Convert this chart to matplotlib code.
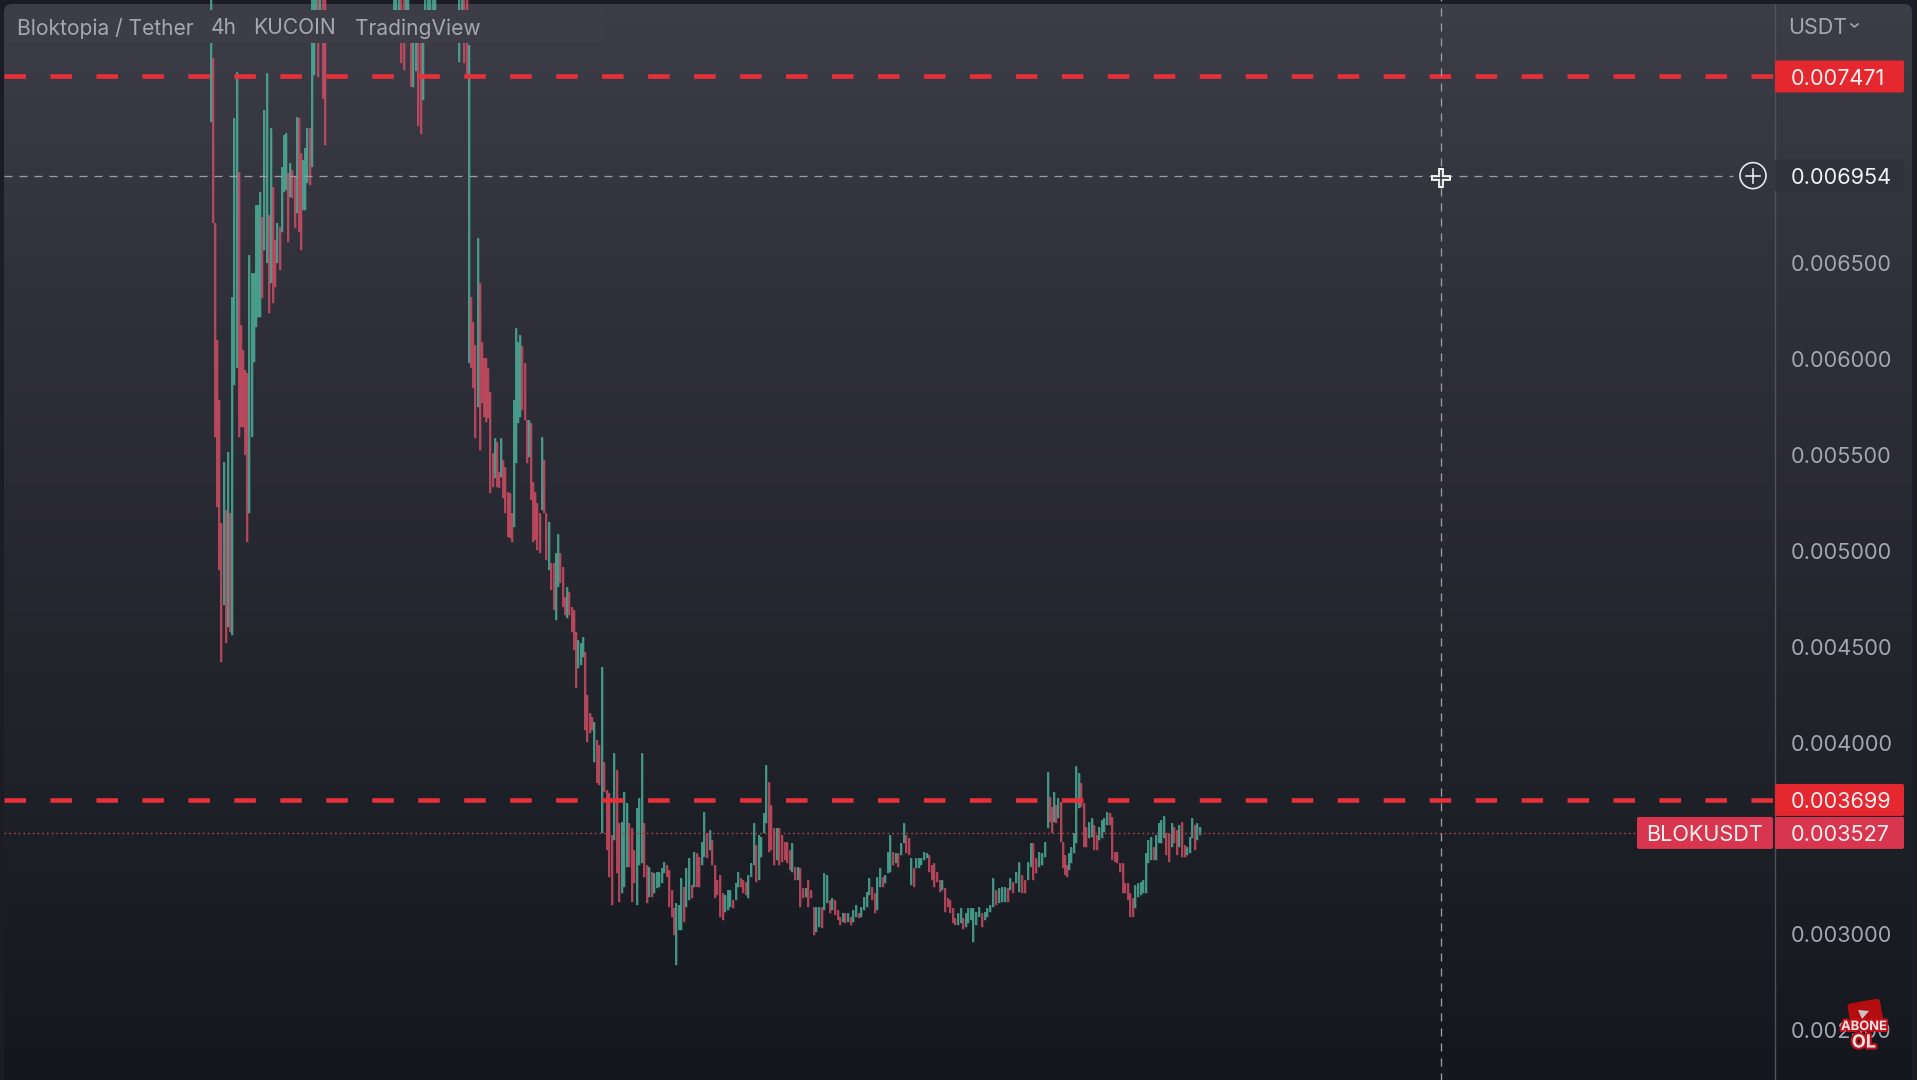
import numpy as np
import matplotlib
matplotlib.use("Agg")
import matplotlib.pyplot as plt
import matplotlib.patheffects as pe
from matplotlib.patches import FancyBboxPatch, Rectangle, Circle, Polygon
from matplotlib.transforms import Affine2D

plt.rcParams["font.family"] = ["Inter", "DejaVu Sans"]
plt.rcParams["lines.scale_dashes"] = False

# all prices in millionths of a USDT
rally_high = [7900, 7567, 6707, 6097, 5784, 5143, 5461, 5211, 5513, 5195, 6321, 7254, 7494, 6973, 6175, 6045, 5941, 5925,
              6540, 6446, 6446, 6801, 6801, 6869, 6738, 7296, 7489, 6749, 7202, 6895, 6618, 6707, 6686, 6999, 7166, 7176,
              6968, 7020, 6983, 6947, 7260, 7254, 7072, 7035, 7098, 7202, 7202, 7900, 7900, 7900, 7900, 7900, 7900, 7900]
rally_low = [7234, 6707, 5591, 5226, 4898, 4418, 4715, 4517, 4600, 4575, 4559, 5862, 5951, 5591, 5643, 5643, 5497, 5044,
             5195, 5591, 5982, 6165, 6217, 6217, 6316, 6566, 6498, 6238, 6394, 6290, 6373, 6498, 6462, 6660, 6869, 6879,
             6608, 6843, 6837, 6681, 6759, 6660, 6566, 6775, 6775, 6916, 6905, 6999, 7479, 7750, 7468, 7750, 7353, 7114]

top_high = [7900, 7900, 7900, 7900, 7900, 7900, 7900, 7750, 7750, 7750, 7750, 7750, 7750, 7900, 7900, 7900, 7900, 7900]
top_low = [7750, 7750, 7750, 7541, 7505, 7750, 7750, 7416, 7416, 7499, 7213, 7171, 7348, 7750, 7750, 7750, 7750, 7750]

peak_high = [7900, 7900, 7900, 7900]
peak_low = [7546, 7750, 7541, 7473]

fall_a_high = [7635, 6321, 6191, 6071, 6629, 6394, 6087, 6003, 6003, 5951, 5826, 5508, 5586, 5565, 5409, 5586, 5471, 5435,
               5304, 5299, 5195, 5784, 6160, 6087, 6123, 6066, 5977, 5680, 5680, 5664, 5357, 5304, 5247, 5195, 5591, 5471, 5195]
fall_a_low = [5977, 5951, 5847, 5586, 5748, 5523, 5769, 5696, 5669, 5690, 5299, 5331, 5377, 5331, 5325, 5383, 5273, 5195,
              5070, 5065, 5044, 5122, 5456, 5664, 5696, 5732, 5680, 5456, 5487, 5263, 5044, 5054, 5002, 4986, 5211, 5195, 4950]

fall_b_high = [5148, 4934, 4934, 4986, 5086, 4986, 4913, 4757, 4809, 4783, 4705, 4689, 4575, 4533, 4517, 4548, 4470, 4246, 4152, 4131]
fall_b_low = [4898, 4794, 4689, 4637, 4809, 4830, 4705, 4663, 4648, 4663, 4575, 4481, 4283, 4387, 4403, 4444, 4064, 4001, 4048, 4064]

base_a_high = [4105, 4011, 3985, 4392, 3897, 3751, 3735, 3516, 3944, 3855, 3579, 3584, 3740, 3683, 3579, 3553, 3438, 3657,
               3709, 3944, 3579, 3360, 3349, 3323, 3318, 3323, 3323, 3344, 3375, 3360, 3334, 3229, 3136]
base_a_low = [3897, 3787, 3777, 3527, 3740, 3438, 3297, 3151, 3490, 3318, 3167, 3214, 3245, 3349, 3349, 3167, 3266, 3151,
              3360, 3370, 3297, 3162, 3193, 3193, 3214, 3240, 3245, 3266, 3318, 3297, 3141, 3089, 2995]

base_b_high = [3162, 3151, 3292, 3245, 3344, 3396, 3255, 3428, 3422, 3401, 3480, 3636, 3527, 3542, 3490, 3360, 3282, 3308,
               3214, 3203, 3229, 3229, 3177, 3266, 3323, 3292, 3282, 3271, 3308, 3370, 3579, 3464, 3516, 3506, 3631]
base_b_low = [2838, 3021, 3021, 3063, 3141, 3177, 3188, 3245, 3245, 3245, 3360, 3401, 3396, 3438, 3360, 3188, 3203, 3089,
              3073, 3115, 3125, 3141, 3136, 3177, 3245, 3245, 3214, 3203, 3188, 3297, 3360, 3271, 3282, 3401, 3527]

base_c_high = [3881, 3793, 3673, 3553, 3553, 3553, 3516, 3480, 3480, 3438, 3474, 3349, 3349, 3344, 3240, 3240, 3282, 3229,
               3141, 3141, 3141, 3141, 3318, 3308, 3177, 3188, 3177, 3125, 3089, 3109, 3109, 3109, 3089, 3125, 3151, 3109,
               3141, 3193, 3219, 3292, 3245, 3214, 3297, 3344, 3297, 3308, 3428, 3516, 3428, 3422, 3422, 3474, 3579, 3516, 3501]
base_c_low = [3579, 3428, 3438, 3360, 3386, 3360, 3375, 3386, 3370, 3334, 3323, 3282, 3282, 3141, 3188, 3193, 3141, 3188,
              2995, 3010, 3036, 3031, 3125, 3162, 3109, 3125, 3099, 3073, 3047, 3063, 3057, 3063, 3047, 3063, 3089, 3083,
              3089, 3125, 3141, 3203, 3177, 3109, 3125, 3245, 3245, 3266, 3318, 3323, 3360, 3370, 3349, 3412, 3474, 3422, 3412]

base_d_high = [3396, 3344, 3396, 3396, 3396, 3428, 3422, 3412, 3360, 3370, 3323, 3282, 3282, 3240, 3188, 3177, 3136, 3083,
               3109, 3136, 3083, 3109, 3136, 3136]
base_d_low = [3255, 3245, 3344, 3344, 3360, 3386, 3396, 3323, 3282, 3245, 3271, 3219, 3229, 3115, 3141, 3109, 3057, 3047,
              3047, 3057, 3026, 3036, 3057, 3073]

base_e_high = [3136, 3115, 3141, 3109, 3115, 3136, 3151, 3292, 3229, 3240, 3245, 3245,
               3240, 3292, 3271, 3323, 3375, 3308, 3282, 3375, 3474, 3474, 3396, 3428, 3422, 3480]
base_e_low = [2958, 3047, 3089, 3036, 3073, 3089, 3115, 3141, 3151, 3162, 3167, 3167,
              3167, 3229, 3214, 3266, 3219, 3214, 3214, 3282, 3349, 3282, 3318, 3349, 3360, 3401]

base_f_high = [3845, 3714, 3662, 3740, 3673, 3709, 3688, 3480, 3412, 3360, 3422, 3454, 3527]
base_f_low = [3553, 3584, 3527, 3584, 3579, 3605, 3480, 3344, 3308, 3297, 3334, 3370, 3422]

base_g_high = [3876, 3839, 3787, 3683, 3558, 3584, 3605, 3568, 3516, 3558, 3594, 3605, 3636, 3631, 3610, 3428, 3428, 3370,
               3370, 3266, 3266, 3214, 3188, 3255, 3266, 3271, 3282, 3422, 3490, 3506, 3454, 3516, 3579, 3594, 3615, 3527,
               3527, 3579, 3558, 3542, 3568, 3584, 3464, 3454, 3506, 3605, 3568, 3579, 3558]
base_g_low = [3474, 3657, 3662, 3454, 3454, 3501, 3506, 3438, 3438, 3490, 3501, 3532, 3568, 3568, 3386, 3375, 3370, 3323,
              3214, 3214, 3177, 3089, 3089, 3136, 3193, 3203, 3214, 3214, 3370, 3386, 3386, 3386, 3474, 3474, 3501, 3412,
              3375, 3454, 3474, 3412, 3454, 3401, 3401, 3412, 3422, 3501, 3438, 3490, 3516]

sections = [
    (rally_high, rally_low, 210.7, 324.7),
    (top_high, top_low, 394, 435),
    (peak_high, peak_low, 459, 467),
    (fall_a_high, fall_a_low, 469, 546),
    (fall_b_high, fall_b_low, 549, 592),
    (base_a_high, base_a_low, 594, 674),
    (base_b_high, base_b_low, 676, 764),
    (base_c_high, base_c_low, 766, 909),
    (base_d_high, base_d_low, 911, 971),
    (base_e_high, base_e_low, 973, 1045),
    (base_f_high, base_f_low, 1047.5, 1073.5),
    (base_g_high, base_g_low, 1076, 1200),
]

price_ticks = [6500, 6000, 5500, 5000, 4500, 4000, 3000, 2500]
levels = [7471, 3699]
last_price = 3527
cursor_price = 6954

W, H = 1917, 1080
AXIS_X = 1775
GREEN = "#4fbba3"
RED = "#df5068"
LABEL = "#a5a7b0"
TXT_DY = 2.5


def price_to_y(p):
    return 934 - (p - 3000) * 0.1918


fig = plt.figure(figsize=(W / 100, H / 100), dpi=100, facecolor="#1b1c24")

# background gradient, clipped to the rounded panel
bg = fig.add_axes([0, 0, 1, 1])
bg.set_xlim(0, W)
bg.set_ylim(H, 0)
bg.axis("off")
ys = np.linspace(0, H, 200)
shade = np.zeros((200, 1, 3))
stops_y = [0, 330, 640, 1080]
stops = np.array([[0x3c, 0x3d, 0x47], [0x2e, 0x2f, 0x39], [0x24, 0x26, 0x2e], [0x15, 0x17, 0x1e]]) / 255
for i in range(3):
    shade[:, 0, i] = np.interp(ys, stops_y, stops[:, i])
im = bg.imshow(shade, extent=[0, W, H, 0], aspect="auto", zorder=1)
panel = FancyBboxPatch((4, 4), 1908, 1100, boxstyle="round,pad=0,rounding_size=8", fc="none", ec="none",
                       transform=bg.transData)
bg.add_patch(panel)
im.set_clip_path(panel)

# price chart, x is just the time position across the window
ax = fig.add_axes([0, 0, 1, 1], facecolor="none")
ax.set_xlim(0, W)
ax.set_ylim(3000 + (934 - 1080) / 0.1918, 3000 + 934 / 0.1918)
ax.axis("off")

for high, low, x0, x1 in sections:
    high = np.array(high)
    low = np.array(low)
    xs = np.linspace(x0, x1, len(high))
    mid = (high + low) / 2
    up = np.r_[True, mid[1:] >= mid[:-1]]
    colors = [GREEN if u else RED for u in up]
    # soft underlay for the video blur, then the bar itself
    ax.vlines(xs, low, high, colors=colors, linewidth=2.0, alpha=0.28, zorder=2)
    ax.vlines(xs, low, high, colors=colors, linewidth=1.2, alpha=0.8, zorder=2)

ax.hlines(last_price, 4, 1637, colors="#b04450", linewidth=1, linestyles=(0, (1.2, 2.2)), zorder=3)
for lv in levels:
    ax.hlines(lv, 4, AXIS_X, colors="#e8303a", linewidth=3.3, linestyles=(0, (15.5, 17.6)), zorder=4)

# crosshair
ax.hlines(cursor_price, 4, 1733, colors="#9a9ba3", linewidth=0.95, linestyles=(0, (5.8, 5)), zorder=5)
ax.vlines(1441, 2200, 7900, colors="#9a9ba3", linewidth=0.95, linestyles=(0, (5.8, 5)), zorder=5)

# overlay in figure pixels for the widgets
ov = fig.add_axes([0, 0, 1, 1], facecolor="none")
ov.set_xlim(0, W)
ov.set_ylim(H, 0)
ov.axis("off")

ov.add_patch(Rectangle((4, 10), 600, 33, fc="#3c3d47", ec="none", zorder=1))
for s, x in zip(["Bloktopia / Tether", "4h", "KUCOIN", "TradingView"], [17, 211, 253, 355]):
    ov.text(x, 28.5, s, color=LABEL, fontsize=15.1, va="center", ha="left", zorder=2)

ov.vlines(AXIS_X, 4, H, colors="#50515b", linewidth=1, zorder=2)
ov.text(1788, 28, "USDT", color=LABEL, fontsize=15.5, va="center", ha="left", zorder=3)
ov.plot([1851, 1854.5, 1858], [24, 27, 24], color=LABEL, lw=1.2, zorder=3)

for p in price_ticks:
    ov.text(1791, price_to_y(p) + TXT_DY, f"{p / 1e6:.6f}", color=LABEL, fontsize=15.6, va="center", ha="left", zorder=3)


def tag(x0, x1, y, text, color, txt_x, txt_color="#f6f0f0"):
    ov.add_patch(FancyBboxPatch((x0, y - 16), x1 - x0, 32, boxstyle="round,pad=0,rounding_size=2",
                                fc=color, ec="none", zorder=4))
    ov.text(txt_x, y + TXT_DY, text, color=txt_color, fontsize=15.6, va="center", ha="left", zorder=5)


tag(1775, 1904, price_to_y(levels[0]), f"{levels[0] / 1e6:.6f}", "#e5282f", 1791)
tag(1775, 1904, price_to_y(levels[1]), f"{levels[1] / 1e6:.6f}", "#e5282f", 1791)
tag(1775, 1904, price_to_y(last_price), f"{last_price / 1e6:.6f}", "#d8364f", 1791)
tag(1637, 1773, price_to_y(last_price), "BLOKUSDT", "#d8364f", 1646)
tag(1775, 1904, price_to_y(cursor_price), f"{cursor_price / 1e6:.6f}", "#30313a", 1791, "#f2f2f4")

# add-alert button next to the crosshair label
cy = price_to_y(cursor_price)
ov.add_patch(Circle((1753, cy), 13, fc="#30313a", ec="#e8e8ec", lw=1.2, zorder=4))
ov.plot([1746, 1760], [cy, cy], color="#e8e8ec", lw=1.2, zorder=5)
ov.plot([1753, 1753], [cy - 7, cy + 7], color="#e8e8ec", lw=1.2, zorder=5)

# mouse cursor
ov.plot([1431, 1451], [177.5, 177.5], color="#f4f4f4", lw=4.2, solid_capstyle="butt", zorder=6)
ov.plot([1441, 1441], [168, 188], color="#f4f4f4", lw=4.2, solid_capstyle="butt", zorder=6)
ov.plot([1433, 1449], [177.5, 177.5], color="#30313a", lw=1.2, solid_capstyle="butt", zorder=7)
ov.plot([1441, 1441], [170, 186], color="#30313a", lw=1.2, solid_capstyle="butt", zorder=7)

# channel watermark
rot = Affine2D().rotate_deg_around(1865, 1014, -10) + ov.transData
ov.add_patch(FancyBboxPatch((1849, 1001), 33, 27, boxstyle="round,pad=0,rounding_size=4", fc="#b40d0f", ec="none",
                            transform=rot, zorder=8))
ov.add_patch(Polygon([[1858, 1010], [1869, 1011], [1862, 1019]], fc="#c9c5c5", ec="none", zorder=9))
red_edge = [pe.withStroke(linewidth=3, foreground="#c4101a")]
ov.text(1864, 1027, "ABONE", color="#f2e6e6", fontsize=9.3, weight="bold", ha="center", va="center", zorder=9,
        path_effects=red_edge)
ov.text(1864, 1043, "OL", color="#f2e6e6", fontsize=13, weight="bold", ha="center", va="center", zorder=9,
        path_effects=red_edge)

fig.savefig("out.png", dpi=100, facecolor=fig.get_facecolor())
